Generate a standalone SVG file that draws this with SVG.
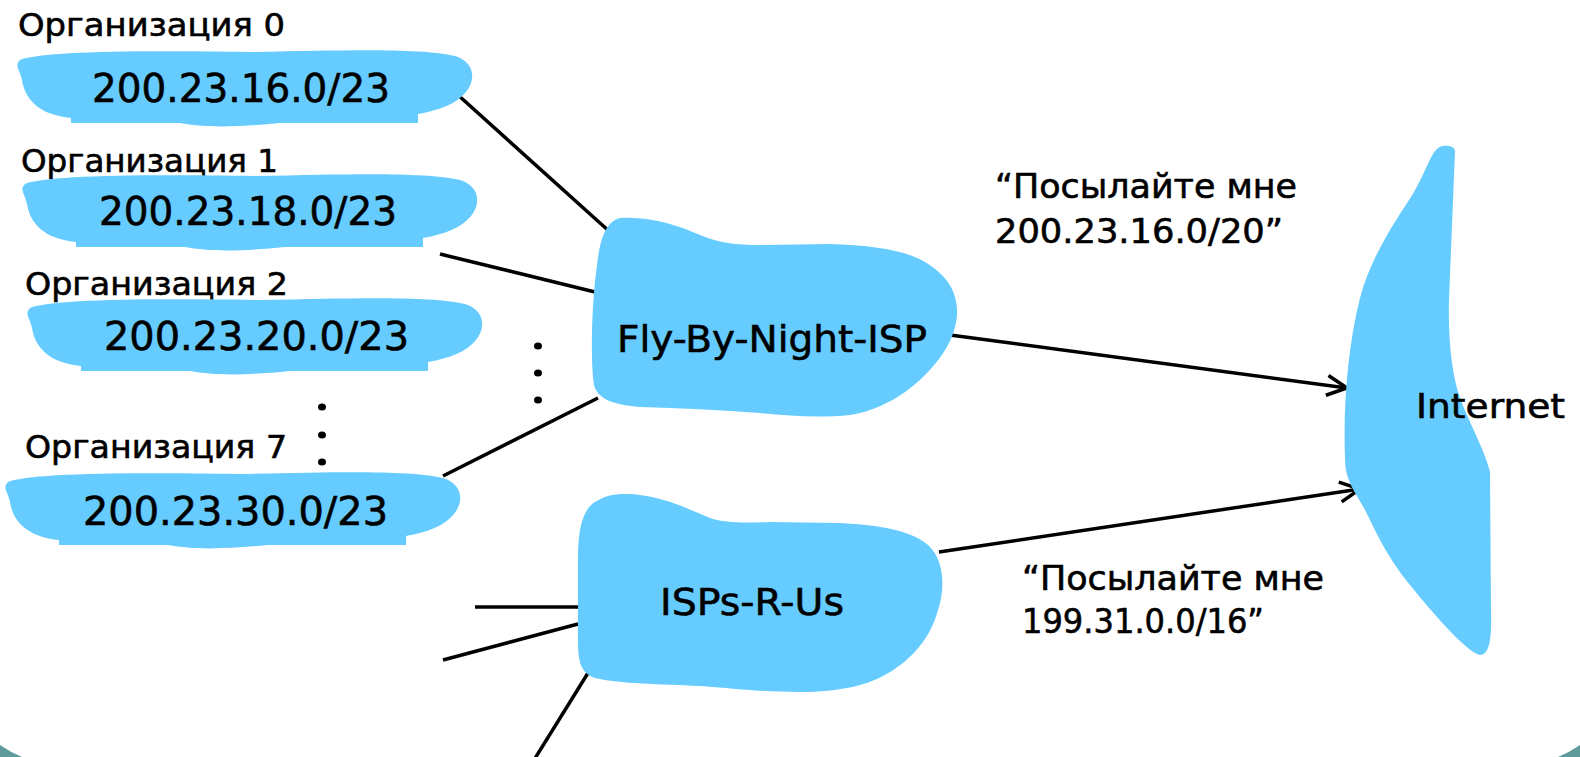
<svg xmlns="http://www.w3.org/2000/svg" width="1580" height="757" viewBox="0 0 1580 757">
<defs>
<style>
.cloud{fill:#66CCFF;stroke:none}
.ln{stroke:#000;stroke-width:3.5;fill:none;stroke-linecap:butt}
.t{font-family:"DejaVu Sans","Noto Sans",sans-serif;fill:#000;stroke:#000;stroke-width:0.6}
.org{font-size:32px}
.net{font-size:39px}
.isp{font-size:38px}
.q{font-size:34px}
.dot{fill:#000}
</style>
<marker id="arr" markerUnits="userSpaceOnUse" markerWidth="26" markerHeight="26" viewBox="0 0 26 26" refX="23" refY="13" orient="auto">
<path d="M3,3 L23,13 L3,23" fill="none" stroke="#000" stroke-width="3.5" stroke-linejoin="miter"/>
</marker>
<path id="blob" d="M 20,60 C 40,52 120,50 250,52 C 350,50 420,48 455,56 C 475,62 476,80 466,92 C 456,104 440,110 418,114 L 418,123 L 280,123 C 240,127 205,128 180,123 L 71,123 L 71,118 C 40,115 25,100 22,80 C 20,70 14,66 20,60 Z"/>
</defs>
<rect x="0" y="0" width="1580" height="757" fill="#fff"/>
<path d="M0,745 Q10,752 22,757 L0,757 Z" fill="#5f9b9b"/>
<path d="M1580,745 Q1570,752 1558,757 L1580,757 Z" fill="#5f9b9b"/>

<g id="connectors">
<line class="ln" x1="458" y1="95" x2="610" y2="232"/>
<line class="ln" x1="440" y1="254" x2="595" y2="292"/>
<line class="ln" x1="443" y1="476" x2="598" y2="398"/>
<line class="ln" x1="475" y1="607" x2="578" y2="607"/>
<line class="ln" x1="443" y1="660" x2="578" y2="624"/>
<line class="ln" x1="588" y1="673" x2="534" y2="760"/>
<line class="ln" x1="950" y1="335" x2="1347" y2="388" marker-end="url(#arr)"/>
<line class="ln" x1="939" y1="552" x2="1360" y2="489" marker-end="url(#arr)"/>
</g>

<g id="org0">
<text class="t org" x="18" y="36" textLength="267" lengthAdjust="spacingAndGlyphs">Организация 0</text>
<use href="#blob" class="cloud"/>
<text class="t net" x="92" y="102" textLength="298" lengthAdjust="spacingAndGlyphs">200.23.16.0/23</text>
</g>
<g id="org1">
<text class="t org" x="21" y="172" textLength="257" lengthAdjust="spacingAndGlyphs">Организация 1</text>
<use href="#blob" class="cloud" transform="translate(5,124)"/>
<text class="t net" x="99" y="225" textLength="298" lengthAdjust="spacingAndGlyphs">200.23.18.0/23</text>
</g>
<g id="org2">
<text class="t org" x="25" y="295" textLength="263" lengthAdjust="spacingAndGlyphs">Организация 2</text>
<use href="#blob" class="cloud" transform="translate(10,248)"/>
<text class="t net" x="104" y="350" textLength="305" lengthAdjust="spacingAndGlyphs">200.23.20.0/23</text>
</g>
<g id="dots-left">
<ellipse class="dot" cx="322" cy="407" rx="4" ry="3.6"/>
<ellipse class="dot" cx="322" cy="435" rx="4" ry="3.6"/>
<ellipse class="dot" cx="322" cy="462" rx="4" ry="3.6"/>
</g>
<g id="org7">
<text class="t org" x="25" y="458" textLength="262" lengthAdjust="spacingAndGlyphs">Организация 7</text>
<use href="#blob" class="cloud" transform="translate(-12,422)"/>
<text class="t net" x="83" y="525" textLength="305" lengthAdjust="spacingAndGlyphs">200.23.30.0/23</text>
</g>
<g id="dots-mid">
<ellipse class="dot" cx="538" cy="346" rx="4" ry="3.6"/>
<ellipse class="dot" cx="538" cy="373" rx="4" ry="3.6"/>
<ellipse class="dot" cx="538" cy="400" rx="4" ry="3.6"/>
</g>

<g id="fly-by-night">
<path class="cloud" d="M 620,218 C 650,216 680,226 700,235 C 720,243 735,245 760,245 L 830,244 C 870,245 905,250 925,262 C 950,277 958,295 957,315 C 955,340 940,360 925,375 C 905,395 880,410 850,415 C 820,418 790,416 760,413 C 720,410 680,408 640,407 C 615,405 598,400 594,385 C 590,360 592,300 597,265 C 600,240 605,222 620,218 Z"/>
<text class="t isp" x="617" y="352" textLength="310" lengthAdjust="spacingAndGlyphs">Fly-By-Night-ISP</text>
</g>

<g id="isps-r-us">
<path class="cloud" d="M 625,494 C 660,494 690,510 710,518 C 725,523 745,523 770,522 L 840,523 C 880,525 910,530 928,545 C 945,560 945,590 938,610 C 930,640 910,660 890,672 C 870,685 840,692 800,692 C 760,692 730,688 700,686 C 660,684 620,684 595,678 C 580,673 578,660 578,640 L 578,560 C 578,530 582,510 595,502 C 605,496 612,494 625,494 Z"/>
<text class="t isp" x="660" y="615" textLength="184" lengthAdjust="spacingAndGlyphs">ISPs-R-Us</text>
</g>

<g id="internet">
<path class="cloud" d="M 1443,146 C 1449,145 1455,147 1455,151 L 1449,300 C 1448,340 1452,375 1460,398 C 1470,425 1484,448 1490,472 L 1491,610 C 1492,640 1489,655 1480,655 C 1466,652 1432,612 1410,585 C 1387,557 1376,532 1366,512 C 1356,492 1345,482 1345,458 C 1343,405 1348,345 1360,298 C 1372,253 1398,218 1414,192 C 1428,168 1432,147 1443,146 Z"/>
<text class="t q" x="1416" y="418" textLength="149" lengthAdjust="spacingAndGlyphs">Internet</text>
</g>

<g id="label-fbn">
<text class="t q" x="995" y="198" textLength="302" lengthAdjust="spacingAndGlyphs">“Посылайте мне</text>
<text class="t q" x="995" y="243" textLength="288" lengthAdjust="spacingAndGlyphs">200.23.16.0/20”</text>
</g>
<g id="label-isps">
<text class="t q" x="1022" y="590" textLength="302" lengthAdjust="spacingAndGlyphs">“Посылайте мне</text>
<text class="t q" x="1022" y="633" textLength="242" lengthAdjust="spacingAndGlyphs">199.31.0.0/16”</text>
</g>
</svg>
